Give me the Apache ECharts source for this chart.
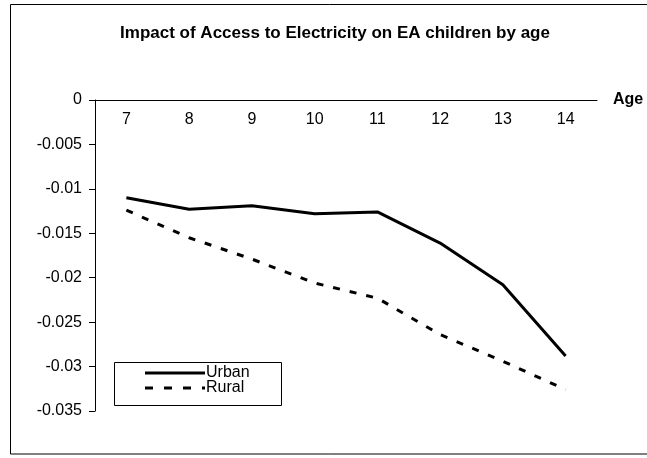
<!DOCTYPE html>
<html>
<head>
<meta charset="utf-8">
<script src="https://cdn.jsdelivr.net/npm/echarts@6/dist/echarts.min.js"></script>
<style>
  html, body { margin: 0; padding: 0; background: #fff; }
  #chart { width: 647px; height: 458px; }
</style>
</head>
<body>
<div id="chart"></div>
<script>
// Ages on the category axis
const ages = ['7', '8', '9', '10', '11', '12', '13', '14'];
// Estimated impact on economically active children, by area
const urban = [-0.0110, -0.0123, -0.0119, -0.0128, -0.0126, -0.0161, -0.0208, -0.0288];
const rural = [-0.0124, -0.0155, -0.0179, -0.0206, -0.0223, -0.0264, -0.0294, -0.0326];
const seriesNames = ['Urban', 'Rural'];
const titleText = 'Impact of Access to Electricity on EA children by age';
const axisName = 'Age';

const font = '"Liberation Sans", Arial, sans-serif';
const chart = echarts.init(document.getElementById('chart'));

const legendX = 114, legendY = 362;

chart.setOption({
  animation: false,
  backgroundColor: '#fff',
  title: {
    text: titleText,
    left: 330,
    textAlign: 'center',
    top: 20,
    textStyle: { fontFamily: font, fontSize: 17, fontWeight: 'bold', color: '#000' }
  },
  grid: { left: 95, top: 100, right: 50, bottom: 47 },
  xAxis: {
    type: 'category',
    position: 'top',
    data: ages,
    boundaryGap: true,
    name: axisName,
    nameLocation: 'end',
    nameGap: 16,
    nameTextStyle: { fontFamily: font, fontSize: 16, fontWeight: 'bold', color: '#000' },
    axisLine: { onZero: false, lineStyle: { color: '#000', width: 1 } },
    axisTick: { inside: true, length: 4, lineStyle: { color: '#000' } },
    axisLabel: { inside: true, margin: 12, fontFamily: font, fontSize: 16, color: '#000' },
    splitLine: { show: false }
  },
  yAxis: {
    type: 'value',
    min: -0.035,
    max: 0,
    interval: 0.005,
    axisLine: { show: true, lineStyle: { color: '#000', width: 1 } },
    axisTick: { show: true, length: 6, lineStyle: { color: '#000' } },
    axisLabel: { margin: 13, fontFamily: font, fontSize: 16, color: '#000' },
    splitLine: { show: false }
  },
  series: [
    {
      name: seriesNames[0],
      type: 'line',
      data: urban,
      symbol: 'none',
      lineStyle: { color: '#000', width: 3 }
    },
    {
      name: seriesNames[1],
      type: 'line',
      data: rural,
      symbol: 'none',
      lineStyle: { color: '#000', width: 3, type: [7, 10] }
    }
  ],
  graphic: [
    // outer chart frame (right edge runs past the canvas)
    {
      type: 'rect',
      shape: { x: 10.5, y: 4.5, width: 660, height: 449.5 },
      style: { fill: 'none', stroke: '#000', lineWidth: 1 },
      silent: true
    },
    // legend box
    {
      type: 'rect',
      shape: { x: legendX + 0.5, y: legendY + 0.5, width: 167, height: 43 },
      style: { fill: '#fff', stroke: '#000', lineWidth: 1 },
      z: 10
    },
    {
      type: 'line',
      shape: { x1: legendX + 31, y1: legendY + 11, x2: legendX + 91, y2: legendY + 11 },
      style: { stroke: '#000', lineWidth: 3 },
      z: 11
    },
    {
      type: 'line',
      shape: { x1: legendX + 31, y1: legendY + 26, x2: legendX + 91, y2: legendY + 26 },
      style: { stroke: '#000', lineWidth: 3, lineDash: [8, 11] },
      z: 11
    },
    {
      type: 'text',
      x: legendX + 92, y: legendY + 11,
      style: { text: seriesNames[0], fontFamily: font, fontSize: 16, fill: '#000', verticalAlign: 'middle' },
      z: 11
    },
    {
      type: 'text',
      x: legendX + 92, y: legendY + 26,
      style: { text: seriesNames[1], fontFamily: font, fontSize: 16, fill: '#000', verticalAlign: 'middle' },
      z: 11
    }
  ]
});
</script>
</body>
</html>
